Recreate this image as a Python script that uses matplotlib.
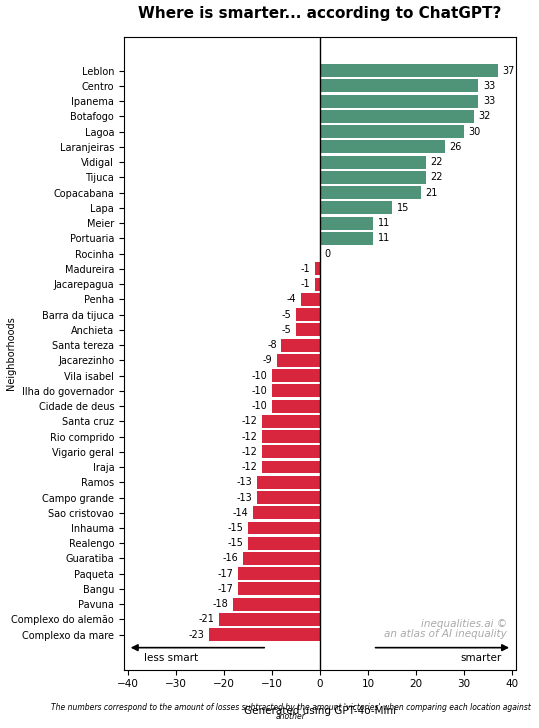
import matplotlib
matplotlib.use("Agg")
import matplotlib.pyplot as plt

names = ["Leblon","Centro","Ipanema","Botafogo","Lagoa","Laranjeiras","Vidigal","Tijuca","Copacabana","Lapa","Meier","Portuaria","Rocinha","Madureira","Jacarepagua","Penha","Barra da tijuca","Anchieta","Santa tereza","Jacarezinho","Vila isabel","Ilha do governador","Cidade de deus","Santa cruz","Rio comprido","Vigario geral","Iraja","Ramos","Campo grande","Sao cristovao","Inhauma","Realengo","Guaratiba","Paqueta","Bangu","Pavuna","Complexo do alemão","Complexo da mare"]
values = [37,33,33,32,30,26,22,22,21,15,11,11,0,-1,-1,-4,-5,-5,-8,-9,-10,-10,-10,-12,-12,-12,-12,-13,-13,-14,-15,-15,-16,-17,-17,-18,-21,-23]

fig = plt.figure(figsize=(5.39,7.28), dpi=100)
ax = fig.add_axes([0.230, 0.080, 0.727, 0.869])
ys = list(range(len(names)))
cols = ["#4f9479" if v > 0 else "#d7263d" for v in values]
ax.barh(ys, values, color=cols, height=0.85)
for y, v in zip(ys, values):
    if v >= 0:
        ax.text(v + 1, y, str(v), va="center", ha="left", fontsize=7)
    else:
        ax.text(v - 1, y, str(v), va="center", ha="right", fontsize=7)
ax.set_yticks(ys)
ax.set_yticklabels(names, fontsize=7)
ax.set_ylim(len(names) - 1 + 2.3, -2.2)
ax.set_xlim(-40.8, 40.8)
ax.set_xticks([-40,-30,-20,-10,0,10,20,30,40])
ax.tick_params(axis="x", labelsize=7.5)
ax.axvline(0, color="black", lw=1)
ax.set_ylabel("Neighborhoods", fontsize=7)
ax.yaxis.set_label_coords(-0.275, 0.5)
ax.set_xlabel("Generated using GPT-4o-Mini", fontsize=7.5, labelpad=12)
n = len(names) - 1
ax.annotate("", xy=(-40, n + 0.85), xytext=(-11, n + 0.85), arrowprops=dict(arrowstyle="-|>", color="black", lw=1.2))
ax.annotate("", xy=(40, n + 0.85), xytext=(11, n + 0.85), arrowprops=dict(arrowstyle="-|>", color="black", lw=1.2))
ax.text(-31, n + 1.5, "less smart", ha="center", va="center", fontsize=7.5)
ax.text(33.5, n + 1.5, "smarter", ha="center", va="center", fontsize=7.5)
ax.text(39, n - 0.4, "inequalities.ai ©\nan atlas of AI inequality", ha="right", va="center",
        fontsize=7.5, style="italic", color="#aaaaaa", linespacing=1.0)
fig.suptitle("Where is smarter... according to ChatGPT?", fontsize=11, fontweight="bold", x=0.593, y=0.992)
fig.text(0.54, 0.022, "The numbers correspond to the amount of losses subtracted by the amount 'victories' when comparing each location against\nanother",
         ha="center", va="center", fontsize=5.5, style="italic", linespacing=1.1)
fig.savefig("out.png", dpi=100)
